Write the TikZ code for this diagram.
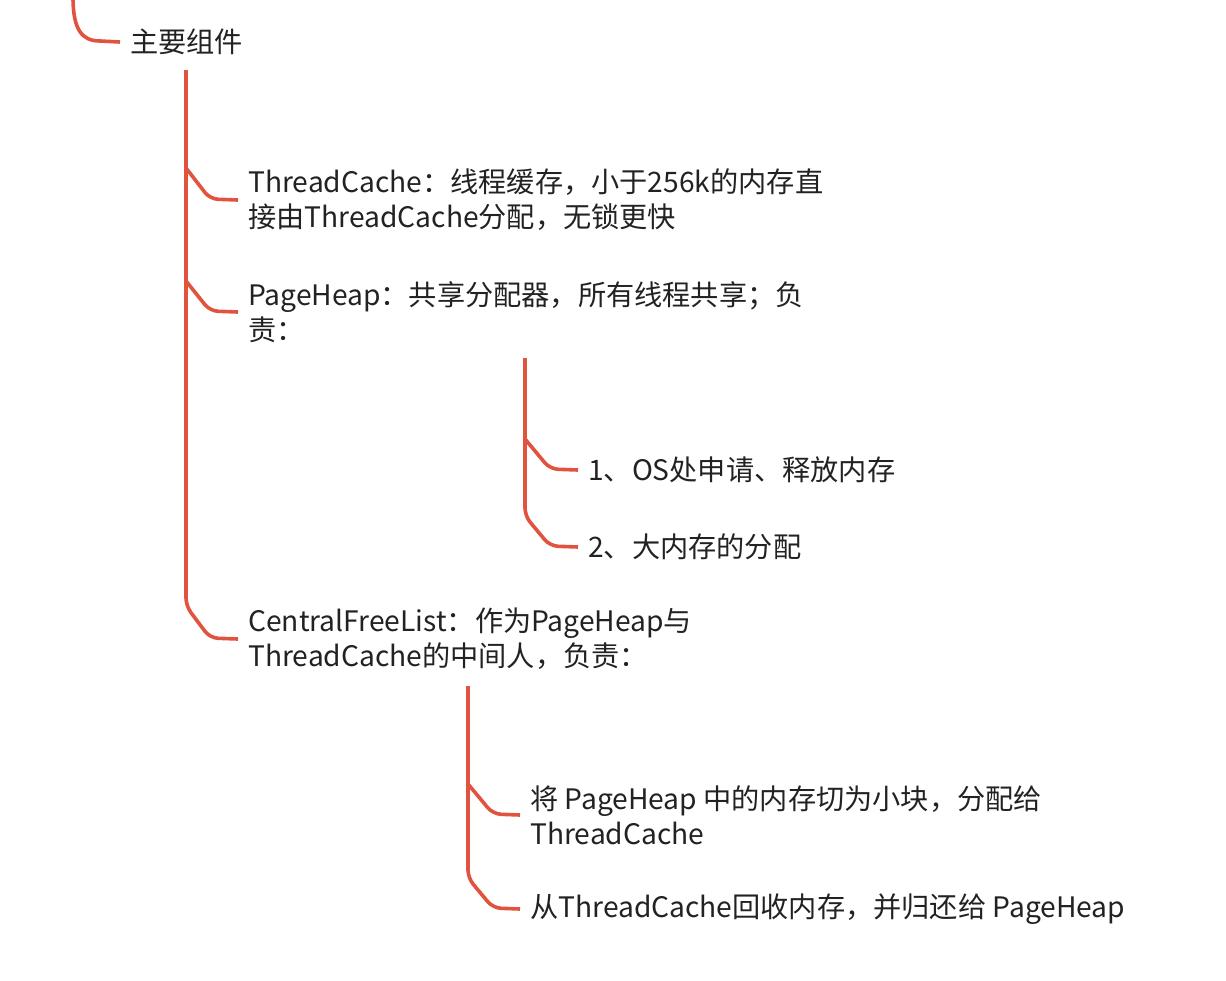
\documentclass[tikz,border=0pt]{standalone}
\usepackage{fontspec}
\setmainfont{Noto Sans CJK SC}
\definecolor{lred}{HTML}{E0533F}
\definecolor{tcol}{HTML}{222222}
\begin{document}
\begin{tikzpicture}[x=1pt,y=-1pt,
  br/.style={draw=lred, line width=3.6pt, rounded corners=8pt, line join=round},
  txt/.style={anchor=west, align=left, inner xsep=10pt, inner ysep=0pt, text=tcol,
    font=\fontsize{28.2}{35}\selectfont}]
\useasboundingbox (0,0) rectangle (1226,980);
% nodes
\node[txt] (main) at (120,42) {主要组件};
\node[txt] (tc) at (238,200) {ThreadCache：线程缓存，小于256k的内存直\\接由ThreadCache分配，无锁更快};
\node[txt] (ph) at (238,312) {PageHeap：共享分配器，所有线程共享；负\\责：};
\node[txt] (cfl) at (238,639) {CentralFreeList：作为PageHeap与\\ThreadCache的中间人，负责：};
\node[txt] (os) at (578,470) {1、OS处申请、释放内存};
\node[txt] (big) at (578,547) {2、大内存的分配};
\node[txt] (cut) at (520,815) {将 PageHeap 中的内存切为小块，分配给\\ThreadCache};
\node[txt] (rec) at (520,909) {从ThreadCache回收内存，并归还给 PageHeap};
% coordinates
\coordinate (top) at (73,-3);
\coordinate (v1) at (186,70);
\coordinate (v2) at (525,358);
\coordinate (v3) at (468,686);
% root curve
\draw[lred, line width=3.6pt] (top) .. controls (73,30) and (82,41) .. (100,41) -- (main.west);
% main trunk
\draw[br] (v1) -- (186,606) -- (210,638) -- (cfl.west);
\draw[br] (186,168) -- (210,199) -- (tc.west);
\draw[br] (186,281) -- (210,311) -- (ph.west);
% PageHeap subtree
\draw[br] (v2) -- (525,516) -- (550,546) -- (big.west);
\draw[br] (525,439) -- (550,469) -- (os.west);
% CentralFreeList subtree
\draw[br] (v3) -- (468,878) -- (493,908) -- (rec.west);
\draw[br] (468,784) -- (493,814) -- (cut.west);
\end{tikzpicture}
\end{document}
